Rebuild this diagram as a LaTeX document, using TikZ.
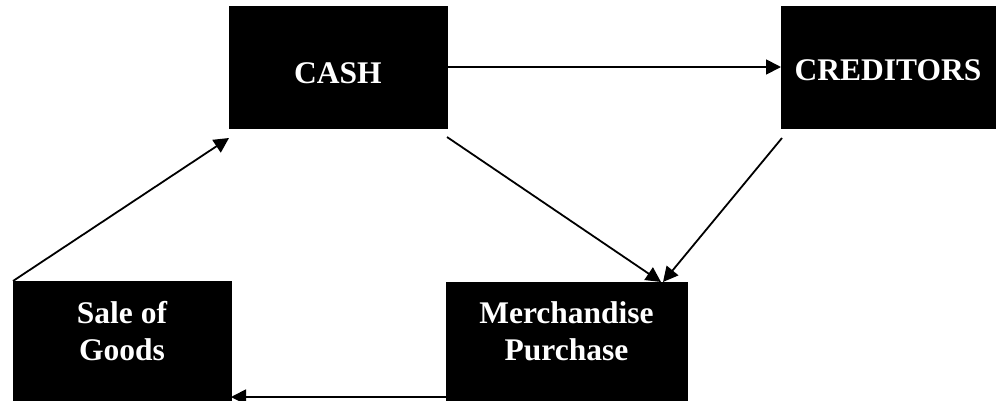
\documentclass[tikz,border=0pt]{standalone}
\usepackage{fontspec}
\setmainfont{Liberation Serif}
\usetikzlibrary{arrows.meta}
\begin{document}
\begin{tikzpicture}[x=1pt,y=-1pt,
  blackbox/.style={draw=black,fill=black,inner sep=0pt,outer sep=0pt,line width=0.6pt},
  boxtext/.style={text=white,font=\fontsize{31.5}{37}\selectfont\bfseries,align=center,anchor=base,inner sep=0pt},
  flow/.style={line width=1.8pt,-{Triangle[length=15pt,width=15pt]}}]
\useasboundingbox (0,0) rectangle (996,400);
\node[blackbox,minimum width=218pt,minimum height=122pt] (cash) at (338,67) {};
\node[blackbox,minimum width=214pt,minimum height=122pt] (cred) at (888,67) {};
\node[blackbox,minimum width=218pt,minimum height=119pt] (sale) at (122,340.5) {};
\node[blackbox,minimum width=241pt,minimum height=118pt] (merch) at (566.5,341) {};
\node[boxtext] (cashT) at (338,83) {CASH};
\node[boxtext] (credT) at (888,80) {CREDITORS};
\node[boxtext] (saleT) at (122,360) {Sale of\\Goods};
\node[boxtext] (merchT) at (566.5,360) {Merchandise\\Purchase};
\draw[flow] (cash.east) -- (cred.west);
\draw[flow] ([yshift=-9pt]cash.south east) -- ([xshift=215pt]merch.north west);
\draw[flow] ([xshift=1pt,yshift=-10pt]cred.south west) -- ([xshift=217pt]merch.north west);
\draw[flow] (sale.north west) -- ([yshift=-10pt]cash.south west);
\draw[flow] ([yshift=3pt]merch.south west) -- ([yshift=3pt]sale.south east);
\end{tikzpicture}
\end{document}
